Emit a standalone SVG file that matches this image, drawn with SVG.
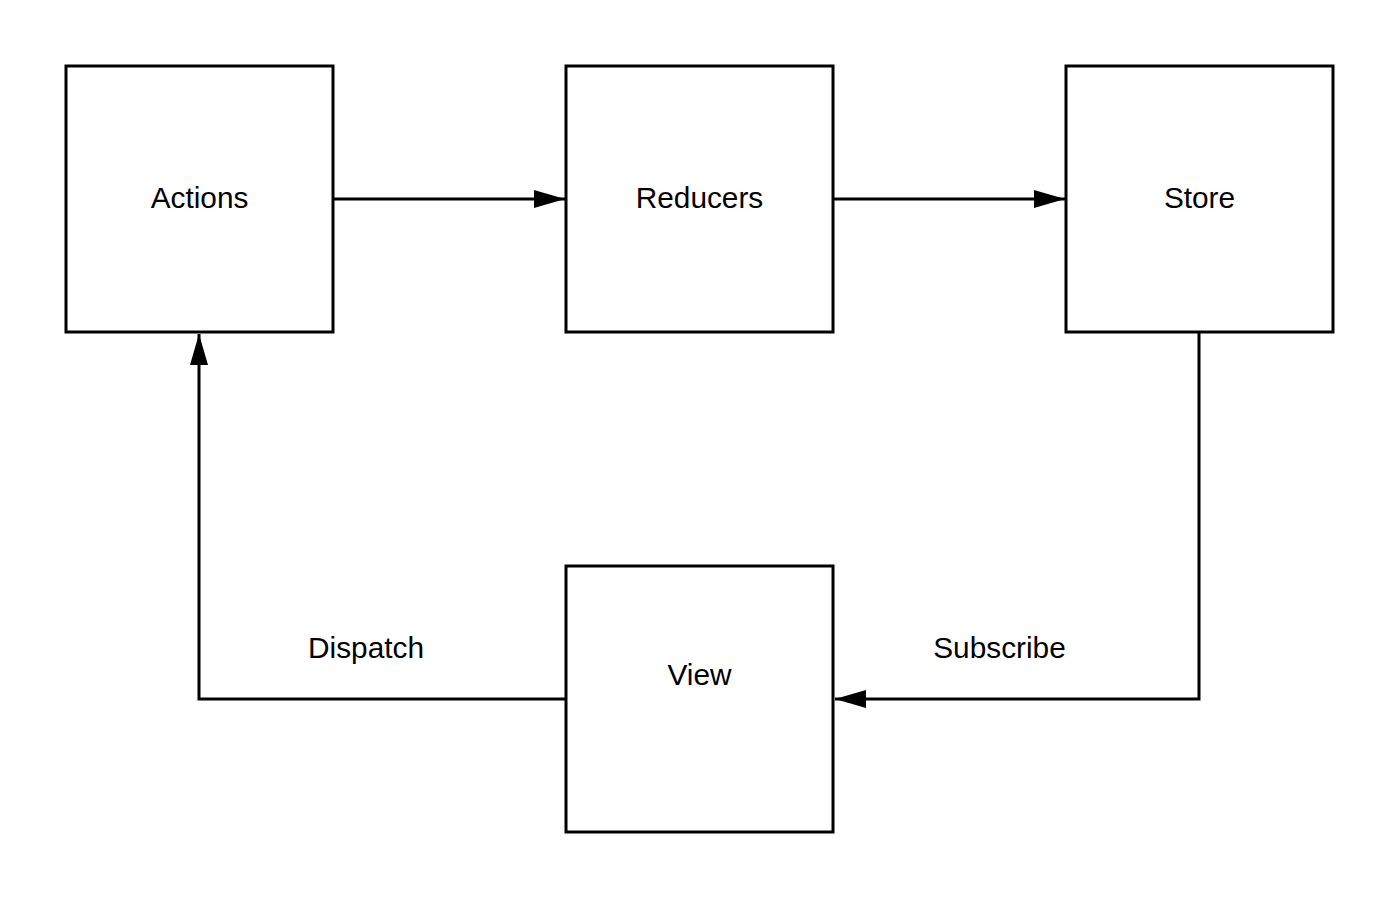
<svg xmlns="http://www.w3.org/2000/svg" width="1400" height="900" viewBox="0 0 1400 900">
<style>
.box{fill:#fff;stroke:#000;stroke-width:3}
.lbl{font-family:"Liberation Sans",Arial,sans-serif;font-size:29.8px;fill:#000;text-anchor:middle}
.edge{fill:none;stroke:#000;stroke-width:3}
</style>
<defs>
<marker id="arr" markerUnits="userSpaceOnUse" markerWidth="32" markerHeight="20" refX="31" refY="10" orient="auto" viewBox="0 0 32 20">
<path d="M0,1 L31,10 L0,19 Z" fill="#000"/>
</marker>
</defs>
<rect width="1400" height="900" fill="#fff"/>
<g id="connectors">
<path class="edge" d="M333,199 L565,199" marker-end="url(#arr)"/>
<path class="edge" d="M833,199 L1065,199" marker-end="url(#arr)"/>
<path class="edge" d="M1199,332 L1199,699 L835,699" marker-end="url(#arr)"/>
<path class="edge" d="M566,699 L199,699 L199,334" marker-end="url(#arr)"/>
</g>
<g id="actions"><rect class="box" x="66" y="66" width="267" height="266"/><text class="lbl" x="199.5" y="208">Actions</text></g>
<g id="reducers"><rect class="box" x="566" y="66" width="267" height="266"/><text class="lbl" x="699.5" y="208">Reducers</text></g>
<g id="store"><rect class="box" x="1066" y="66" width="267" height="266"/><text class="lbl" x="1199.5" y="208">Store</text></g>
<g id="view"><rect class="box" x="566" y="566" width="267" height="266"/><text class="lbl" x="699.5" y="685">View</text></g>
<g id="labels">
<text class="lbl" x="366" y="658">Dispatch</text>
<text class="lbl" x="999.5" y="658">Subscribe</text>
</g>
</svg>
